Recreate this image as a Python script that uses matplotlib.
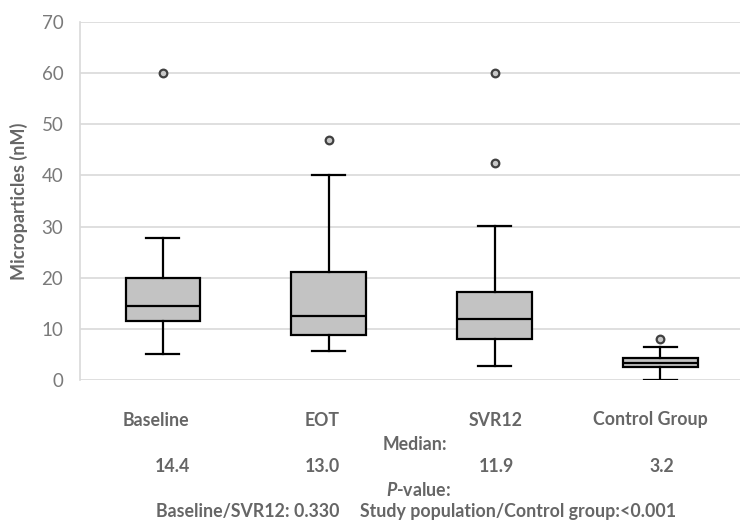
import matplotlib
matplotlib.use("Agg")
import matplotlib.pyplot as plt

# data
groups = ["Baseline", "EOT", "SVR12", "Control Group"]
q1 = [11.5, 8.8, 8.1, 2.5]
med = [14.5, 12.5, 11.9, 3.4]
q3 = [20.0, 21.2, 17.2, 4.4]
wlo = [5.0, 5.7, 2.8, 0.0]
whi = [27.8, 40.0, 30.2, 6.5]
fliers = [[60.0], [46.9], [60.0, 42.5], [8.1]]
median_txt = ["14.4", "13.0", "11.9", "3.2"]
pval_txt = ["Baseline/SVR12: 0.330", "Study population/Control group:<0.001"]

plt.rcParams["font.family"] = ["Lato", "DejaVu Sans"]
plt.rcParams["mathtext.fontset"] = "custom"
plt.rcParams["mathtext.it"] = "Lato:italic:bold"
GRAY = "#666666"
FS = 12.8

fig = plt.figure(figsize=(7.4, 5.22), dpi=100)
ax = fig.add_axes([80/740, 0.272, 1 - 80/740, 0.686])

stats = [dict(q1=a, med=m, q3=b, whislo=lo, whishi=hi, fliers=f, label=g)
         for g, a, m, b, lo, hi, f in zip(groups, q1, med, q3, wlo, whi, fliers)]
ax.bxp(stats, positions=range(1, 5), widths=0.45, patch_artist=True,
       boxprops=dict(facecolor="#c3c3c3", edgecolor="black", lw=1.6),
       medianprops=dict(color="black", lw=1.6),
       whiskerprops=dict(color="black", lw=1.6),
       capprops=dict(color="black", lw=1.6),
       capwidths=0.2,
       flierprops=dict(marker="o", markersize=5.5, markerfacecolor="#c8c8c8",
                       markeredgecolor="#404040", markeredgewidth=1.6))

ax.set_xlim(0.5, 4.48)
ax.set_ylim(0, 70)
ax.set_yticks(range(0, 71, 10))
ax.set_xticks([])
ax.yaxis.grid(True, color="#d9d9d9", lw=1.2)
ax.set_axisbelow(True)
for s in ["top", "right", "bottom"]:
    ax.spines[s].set_visible(False)
ax.spines["left"].set_color("#d9d9d9")
ax.spines["left"].set_linewidth(1.2)
ax.tick_params(axis="y", length=0, pad=12, labelsize=13.5, labelcolor="#7a7a7a")
ax.set_ylabel("Microparticles (nM)", fontsize=13, fontweight="bold", color=GRAY, labelpad=10)

# table of labels under the chart (pixel positions from the reference)
lab_x = [156, 322, 496, 650]
med_x = [172, 322, 496, 662]
for xl, xm, g, m in zip(lab_x, med_x, groups, median_txt):
    fig.text(xl/740, 1 - 420/522, g, ha="center", va="center", fontsize=FS, fontweight="bold", color=GRAY)
    fig.text(xm/740, 1 - 467/522, m, ha="center", va="center", fontsize=FS, fontweight="bold", color=GRAY)
fig.text(415/740, 1 - 445/522, "Median:", ha="center", va="center", fontsize=FS, fontweight="bold", color=GRAY)
fig.text(418/740, 1 - 490/522, "$\\mathit{P}$-value:", ha="center", va="center", fontsize=FS,
         fontweight="bold", color=GRAY)
fig.text(156/740, 1 - 511/522, pval_txt[0], ha="left", va="center", fontsize=FS, fontweight="bold", color=GRAY)
fig.text(360/740, 1 - 511/522, pval_txt[1], ha="left", va="center", fontsize=FS, fontweight="bold", color=GRAY)

fig.savefig("out.png", dpi=100)
